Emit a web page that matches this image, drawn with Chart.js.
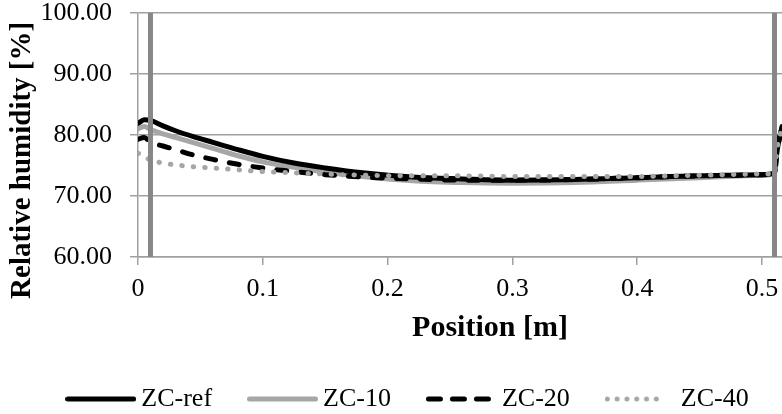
<!DOCTYPE html>
<html>
<head>
<meta charset="utf-8">
<script src="https://cdn.jsdelivr.net/npm/chart.js@4"></script>
<style>
  body { margin: 0; background: #fff; }
</style>
</head>
<body>
<canvas id="humidityChart" width="782" height="414"></canvas>
<script>
// positions along the wall [m]
const positions = [0, 0.005, 0.01, 0.02, 0.03, 0.045, 0.06, 0.08, 0.1, 0.125, 0.15, 0.18, 0.22, 0.26, 0.3, 0.35, 0.4, 0.45, 0.5, 0.51, 0.512, 0.516, 0.52];

// relative humidity [%] per case
const zcRef = [81.9, 82.5, 82.4, 81.5, 80.7, 79.7, 78.8, 77.6, 76.5, 75.4, 74.6, 73.8, 73.1, 72.8, 72.6, 72.7, 73.0, 73.3, 73.5, 73.8, 77.4, 81.4, 86.0];
const zc10 = [81.0, 81.4, 80.9, 80.2, 79.6, 78.7, 77.8, 76.6, 75.6, 74.7, 73.9, 73.2, 72.5, 72.2, 72.1, 72.2, 72.6, 73.0, 73.4, 73.7, 77.3, 81.3, 86.0];
const zc20 = [79.3, 79.6, 78.8, 78.2, 77.6, 76.7, 76.0, 75.2, 74.6, 74.0, 73.5, 73.1, 72.8, 72.6, 72.6, 72.7, 73.0, 73.3, 73.5, 73.8, 77.4, 81.4, 86.0];
const zc40 = [77.0, 76.5, 75.9, 75.4, 75.1, 74.8, 74.6, 74.3, 74.0, 73.8, 73.6, 73.4, 73.3, 73.3, 73.2, 73.2, 73.2, 73.4, 73.6, 73.8, 77.5, 81.5, 86.0];

// material interfaces drawn as vertical lines
const interfaces = [0.01, 0.51];
const interfaceRange = [60, 100];

const xTicks = [0, 0.1, 0.2, 0.3, 0.4, 0.5];
const yTicks = [60, 70, 80, 90, 100];

const gridGray = '#a0a0a0';
const font = 'Liberation Serif';

function toPoints(values) {
    return positions.map((x, i) => ({ x: x, y: values[i] }));
}

// small picture used as legend sample (legend point styles ignore dashes)
function legendIcon(color, dash, length) {
    const c = document.createElement('canvas');
    c.width = 71;
    c.height = 10;
    const ctx = c.getContext('2d');
    ctx.strokeStyle = color;
    ctx.lineWidth = 5;
    ctx.lineCap = 'round';
    ctx.setLineDash(dash);
    ctx.beginPath();
    ctx.moveTo(2.5, 5);
    ctx.lineTo(length, 5);
    ctx.stroke();
    return c;
}

function lineSet(label, values, color, dash, icon, order) {
    return {
        label: label,
        data: toPoints(values),
        borderColor: color,
        backgroundColor: color,
        borderWidth: 5,
        borderDash: dash,
        borderCapStyle: 'round',
        pointRadius: 0,
        pointStyle: icon,
        cubicInterpolationMode: 'monotone',
        order: order
    };
}

const datasets = [
    lineSet('ZC-ref', zcRef, '#000000', [], legendIcon('#000000', [], 68.5), 3),
    lineSet('ZC-10', zc10, '#a6a6a6', [], legendIcon('#a6a6a6', [], 68.5), 4),
    lineSet('ZC-20', zc20, '#000000', [10, 14], legendIcon('#000000', [12, 12], 64), 2),
    lineSet('ZC-40', zc40, '#a6a6a6', [0.5, 11], legendIcon('#a6a6a6', [0, 9.8], 53), 1)
];

interfaces.forEach(x => {
    datasets.push({
        label: '',
        data: interfaceRange.map(y => ({ x: x, y: y })),
        borderColor: '#878787',
        borderWidth: 5,
        pointRadius: 0,
        order: 0
    });
});

// move the legend a bit to the right, like the original
const legendShift = {
    id: 'legendShift',
    afterLayout(chart) {
        chart.legend.left += 20;
        chart.legend.right += 20;
    }
};

new Chart(document.getElementById('humidityChart'), {
    type: 'line',
    data: { datasets: datasets },
    plugins: [legendShift],
    options: {
        responsive: false,
        animation: false,
        devicePixelRatio: 1,
        layout: { padding: { left: 0, right: 0, top: 0, bottom: -8 } },
        scales: {
            x: {
                type: 'linear',
                min: 0,
                max: 0.516,
                afterBuildTicks: scale => { scale.ticks = xTicks.map(v => ({ value: v })); },
                afterFit: scale => {
                    scale.height = 86;
                    scale.paddingRight = 0;
                },
                ticks: {
                    color: '#000',
                    padding: 11,
                    font: { family: font, size: 26, lineHeight: 1 },
                    callback: v => String(v)
                },
                grid: { drawOnChartArea: false, drawTicks: true, tickLength: 8, color: gridGray, lineWidth: 1.5 },
                border: { color: gridGray, width: 1.5 },
                title: {
                    display: true,
                    text: '        Position [m]',
                    color: '#000',
                    font: { family: font, size: 30, weight: 'bold', lineHeight: 1 },
                    padding: { top: 0, bottom: 0 }
                }
            },
            y: {
                min: 60,
                max: 100,
                afterBuildTicks: scale => { scale.ticks = yTicks.map(v => ({ value: v })); },
                afterFit: scale => {
                    scale.width = 138;
                    scale.paddingTop = 13;
                    scale.paddingBottom = 13;
                },
                ticks: {
                    color: '#000',
                    padding: 18,
                    font: { family: font, size: 26, lineHeight: 1 },
                    callback: v => v.toFixed(2)
                },
                grid: { color: gridGray, lineWidth: 1.5, tickLength: 8 },
                border: { color: gridGray, width: 1.5 },
                title: {
                    display: true,
                    text: 'Relative humidity [%]       ',
                    color: '#000',
                    font: { family: font, size: 29, weight: 'bold' },
                    padding: { top: 5, bottom: 0 }
                }
            }
        },
        plugins: {
            tooltip: { enabled: false },
            legend: {
                position: 'bottom',
                labels: {
                    filter: item => item.text !== '',
                    sort: (a, b) => a.datasetIndex - b.datasetIndex,
                    usePointStyle: true,
                    pointStyleWidth: 55,
                    padding: 43,
                    color: '#000',
                    font: { family: font, size: 26 }
                }
            }
        }
    }
});
</script>
</body>
</html>
